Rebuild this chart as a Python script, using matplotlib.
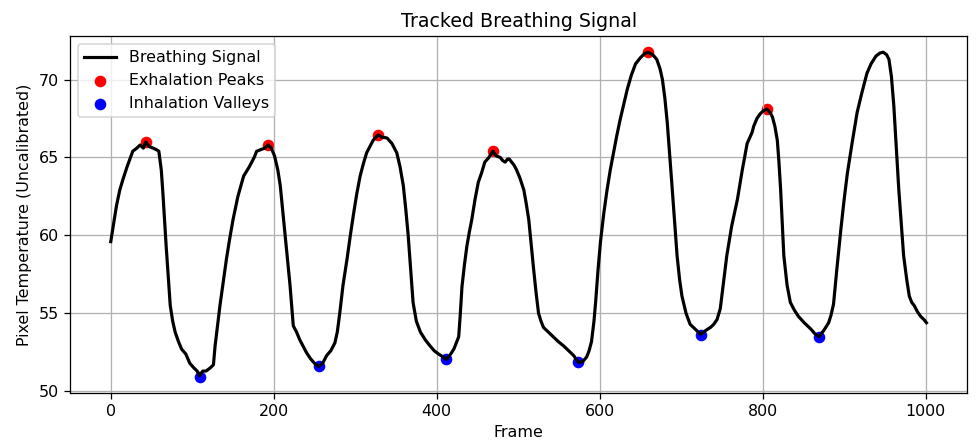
"""
Tracked breathing signal with detected exhalation peaks and inhalation valleys
"""

import matplotlib.pyplot as plt

# signal samples (frame, pixel temperature)
frames = [
    0, 3, 7, 11, 15, 20, 27, 32, 36, 40, 43, 47, 52, 56, 59, 62, 64, 66, 68,
    70, 73, 76, 79, 83, 87, 92, 97, 102, 106, 109, 113, 117, 122, 126, 128,
    131, 134, 138, 142, 146, 150, 156, 163, 170, 176, 179, 184, 189, 193, 197,
    201, 205, 208, 211, 214, 217, 220, 224, 228, 232, 236, 240, 245, 250, 255,
    260, 265, 270, 275, 278, 281, 285, 290, 294, 298, 302, 306, 310, 314, 318,
    322, 328, 333, 339, 345, 351, 355, 359, 362, 365, 368, 371, 375, 380, 386,
    392, 397, 402, 408, 412, 416, 421, 424, 427, 429, 431, 434, 437, 440, 443,
    447, 451, 455, 459, 464, 469, 473, 478, 481, 484, 487, 489, 492, 495, 498,
    502, 507, 510, 513, 516, 519, 522, 525, 528, 531, 537, 543, 549, 556, 562,
    568, 574, 579, 584, 587, 590, 593, 595, 598, 601, 605, 609, 613, 617, 621,
    625, 630, 634, 639, 644, 650, 655, 659, 665, 670, 674, 677, 680, 683, 686,
    689, 692, 695, 698, 701, 706, 711, 717, 724, 730, 736, 740, 744, 748, 752,
    756, 762, 769, 775, 781, 787, 789, 793, 797, 801, 805, 809, 812, 815, 818,
    820, 822, 824, 826, 830, 834, 839, 844, 851, 859, 864, 869, 875, 881, 884,
    887, 891, 896, 900, 904, 910, 916, 922, 928, 933, 939, 944, 948, 952, 955,
    958, 961, 964, 967, 970, 973, 977, 980, 983, 986, 990, 994, 998, 1001,
]
signal = [
    59.6, 60.6, 61.9, 62.9, 63.6, 64.4, 65.4, 65.6, 65.8, 65.6, 66.0, 65.7,
    65.6, 65.5, 65.4, 64.2, 62.7, 61.0, 59.3, 57.8, 55.5, 54.5, 53.8, 53.2,
    52.7, 52.4, 51.8, 51.5, 51.3, 51.0, 51.3, 51.3, 51.5, 51.7, 52.9, 54.2,
    55.5, 57.0, 58.5, 59.8, 61.0, 62.5, 63.8, 64.4, 65.0, 65.4, 65.5, 65.6,
    65.8, 65.6, 65.1, 64.2, 63.2, 61.6, 60.0, 58.4, 56.8, 54.2, 53.8, 53.3,
    52.9, 52.5, 52.1, 51.8, 51.6, 51.8, 52.3, 52.6, 53.1, 53.8, 55.0, 56.8,
    58.5, 60.0, 61.4, 62.7, 63.8, 64.6, 65.3, 65.7, 66.1, 66.45, 66.3, 66.25,
    65.9, 65.3, 64.4, 63.2, 61.7, 60.0, 57.8, 55.7, 54.5, 53.8, 53.3, 52.9,
    52.6, 52.4, 52.2, 52.05, 52.3, 52.7, 53.1, 53.5, 55.0, 56.7, 58.1, 59.3,
    60.2, 61.0, 62.3, 63.4, 64.0, 64.7, 65.0, 65.4, 65.1, 65.0, 64.8, 64.7,
    64.9, 64.9, 64.7, 64.5, 64.2, 63.7, 62.9, 62.0, 61.0, 59.4, 57.8, 56.3,
    55.0, 54.5, 54.1, 53.8, 53.5, 53.2, 52.9, 52.6, 52.3, 51.85, 51.9, 52.2,
    52.6, 53.2, 54.5, 55.7, 57.8, 59.6, 61.4, 62.9, 64.2, 65.3, 66.4, 67.4,
    68.5, 69.4, 70.3, 71.0, 71.4, 71.65, 71.75, 71.6, 71.3, 70.7, 70.0, 68.8,
    67.2, 65.1, 63.0, 60.8, 58.7, 57.2, 56.1, 55.0, 54.3, 54.0, 53.65, 53.9,
    54.1, 54.3, 54.6, 55.3, 57.0, 58.7, 60.6, 62.3, 64.2, 65.9, 66.6, 67.0,
    67.5, 67.8, 68.0, 68.1, 67.9, 67.6, 67.0, 66.1, 64.7, 63.0, 60.8, 58.7,
    56.8, 55.7, 55.2, 54.8, 54.4, 54.0, 53.7, 53.5, 53.9, 54.4, 54.9, 55.6,
    57.8, 60.4, 62.3, 64.0, 66.0, 67.9, 69.2, 70.4, 71.0, 71.5, 71.7, 71.75,
    71.6, 71.3, 70.2, 68.3, 65.6, 63.0, 60.8, 58.7, 57.1, 56.1, 55.7, 55.5,
    55.1, 54.8, 54.6, 54.4,
]

# detected extrema
peak_frames = [43, 193, 328, 469, 659, 805]
peak_values = [66.0, 65.8, 66.45, 65.4, 71.75, 68.1]
valley_frames = [109, 255, 412, 574, 724, 869]
valley_values = [50.95, 51.6, 52.05, 51.85, 53.6, 53.5]


DPI = 114
fig = plt.figure(figsize=(976 / DPI, 443 / DPI), dpi=DPI)
ax = fig.add_axes([0.0717, 0.1135, 0.9193, 0.8052])

ax.plot(frames, signal, color='black', lw=2, label='Breathing Signal')
ax.scatter(peak_frames, peak_values, color='red', s=40,
           label='Exhalation Peaks')
ax.scatter(valley_frames, valley_values, color='blue', s=40,
           label='Inhalation Valleys')

ax.set_title('Tracked Breathing Signal')
ax.set_xlabel('Frame')
ax.set_ylabel('Pixel Temperature (Uncalibrated)')
ax.grid(True)
ax.legend(loc='upper left')

fig.savefig('out.png', dpi=DPI)
